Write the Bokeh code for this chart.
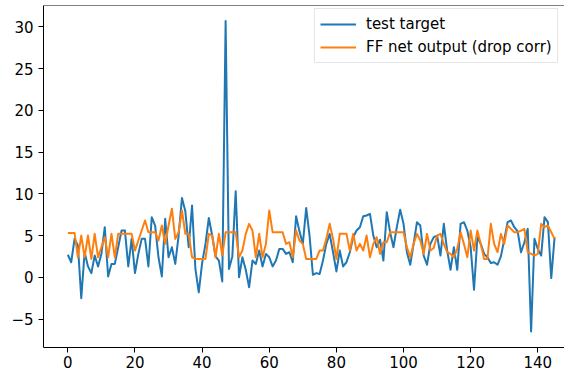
from bokeh.plotting import figure
from bokeh.models import Range1d, FixedTicker, Legend, LegendItem, Span
from bokeh.embed import file_html
from bokeh.resources import INLINE

test_target = [
    2.7, 1.8, 4.6, 3.8, -2.5, 3.0, 1.3, 0.5, 2.6, 1.3,
    2.8, 6.0, 0.1, 1.6, 1.6, 3.6, 5.6, 5.6, 1.3, 4.6,
    0.5, 2.8, 4.6, 4.6, 1.3, 7.2, 6.2, 2.4, 0.1, 7.0,
    2.4, 3.6, 1.6, 5.0, 9.5, 7.9, 3.6, 8.6, 1.0, -1.8,
    1.7, 4.0, 7.1, 5.0, 2.5, 2.0, -0.5, 30.7, 1.0, 2.5,
    10.3, 0.0, 2.4, 0.9, -1.2, 2.0, 1.6, 3.2, 1.3, 2.8,
    2.4, 1.3, 2.0, 3.4, 3.4, 2.8, 3.0, 1.8, 7.3, 5.5,
    4.0, 8.3, 5.0, 0.3, 0.5, 0.4, 2.0, 4.0, 5.2, 3.0,
    0.7, 3.2, 1.3, 1.8, 3.0, 4.8, 5.6, 6.0, 7.3, 7.4,
    7.6, 5.0, 3.6, 4.5, 2.0, 7.8, 5.4, 3.6, 6.0, 8.1,
    6.4, 3.0, 1.5, 4.0, 6.6, 6.2, 2.6, 1.5, 4.0, 4.8,
    5.0, 2.6, 6.4, 3.2, 0.9, 3.6, 0.9, 6.4, 6.6, 5.6,
    3.6, -1.5, 4.8, 4.0, 2.8, 2.4, 1.7, 1.8, 1.5, 2.5,
    4.5, 6.6, 6.8, 6.0, 5.5, 3.0, 4.2, 5.8, -6.5, 4.6,
    3.4, 2.6, 7.2, 6.6, -0.1, 4.8,
]

ff_output = [
    5.3, 5.3, 5.3, 2.4, 5.0, 2.4, 5.0, 2.2, 5.2, 2.4,
    3.6, 4.8, 2.4, 5.2, 2.4, 5.2, 5.2, 5.2, 5.2, 5.2,
    3.2, 4.4, 5.6, 6.8, 5.4, 5.4, 5.4, 4.4, 6.2, 4.0,
    6.2, 8.2, 4.6, 5.4, 8.0, 5.2, 5.2, 2.4, 2.2, 2.2,
    2.2, 2.2, 5.2, 5.0, 2.4, 5.2, 2.6, 5.4, 5.4, 5.4,
    5.4, 2.4, 3.2, 5.2, 6.4, 5.6, 2.4, 5.2, 2.4, 4.0,
    8.0, 5.4, 5.4, 5.4, 5.4, 4.0, 4.2, 2.4, 5.6, 4.4,
    4.0, 2.2, 2.2, 2.2, 2.2, 3.2, 3.2, 4.6, 6.4, 4.6,
    2.2, 5.2, 5.2, 5.2, 3.2, 5.2, 3.2, 4.0, 3.2, 5.0,
    2.4, 4.0, 4.8, 2.8, 4.2, 4.2, 5.4, 5.4, 5.4, 5.4,
    5.4, 3.6, 2.4, 4.0, 5.2, 4.4, 2.8, 5.2, 3.2, 3.5,
    5.0, 5.2, 4.0, 3.0, 2.8, 2.4, 3.4, 5.4, 4.0, 2.4,
    5.6, 3.2, 5.6, 4.0, 2.2, 2.2, 6.4, 4.0, 3.0, 5.2,
    4.0, 6.2, 5.8, 5.4, 5.4, 5.6, 5.8, 3.0, 2.8, 2.6,
    2.8, 6.4, 6.0, 6.2, 5.4, 4.6,
]

x_index = list(range(len(test_target)))
x_ticks = [0, 20, 40, 60, 80, 100, 120, 140]
y_ticks = [-5, 0, 5, 10, 15, 20, 25, 30]
series_labels = ["test target", "FF net output (drop corr)"]

FONT = "DejaVu Sans"
Y_TOP = 32.55

p = figure(width=564, height=371, output_backend="svg", toolbar_location=None,
           x_range=Range1d(-7.25, 147.95), y_range=Range1d(-8.41, Y_TOP),
           min_border_left=43, min_border_right=0, min_border_top=5,
           min_border_bottom=24)
p.outline_line_color = None
p.xgrid.visible = False
p.ygrid.visible = False

r1 = p.line(x_index, test_target, line_color="#1f77b4", line_width=2, line_join="round")
r2 = p.line(x_index, ff_output, line_color="#ff7f0e", line_width=2, line_join="round")

for ax in (p.xaxis[0], p.yaxis[0]):
    ax.axis_line_color = "#000000"
    ax.axis_line_width = 1
    ax.major_tick_line_color = "#000000"
    ax.major_tick_out = 5
    ax.major_tick_in = 0
    ax.minor_tick_line_color = None
    ax.major_label_text_font = FONT
    ax.major_label_text_font_size = "15px"
    ax.major_label_text_color = "#000000"
    ax.major_label_standoff = 3

p.yaxis[0].major_label_standoff = 5
p.xaxis[0].ticker = FixedTicker(ticks=x_ticks)
p.yaxis[0].ticker = FixedTicker(ticks=y_ticks)
p.yaxis[0].major_label_overrides = {t: (("\u2212" + str(-t)) if t < 0 else str(t)) for t in y_ticks}

top_spine = Span(location=Y_TOP, dimension="width", line_color="#000000", line_width=1)
p.add_layout(top_spine)

legend = Legend(items=[LegendItem(label=series_labels[0], renderers=[r1]),
                       LegendItem(label=series_labels[1], renderers=[r2])],
                location=(271, 284))
legend.label_text_font = FONT
legend.label_text_font_size = "15px"
legend.label_text_color = "#000000"
legend.padding = 5
legend.spacing = 3
legend.glyph_width = 36
legend.glyph_height = 20
legend.label_height = 20
legend.label_standoff = 10
legend.border_line_color = "#cccccc"
legend.border_line_width = 1
legend.background_fill_color = "#ffffff"
legend.background_fill_alpha = 0.8
p.add_layout(legend)

open("out.html", "w").write(file_html(p, INLINE))
